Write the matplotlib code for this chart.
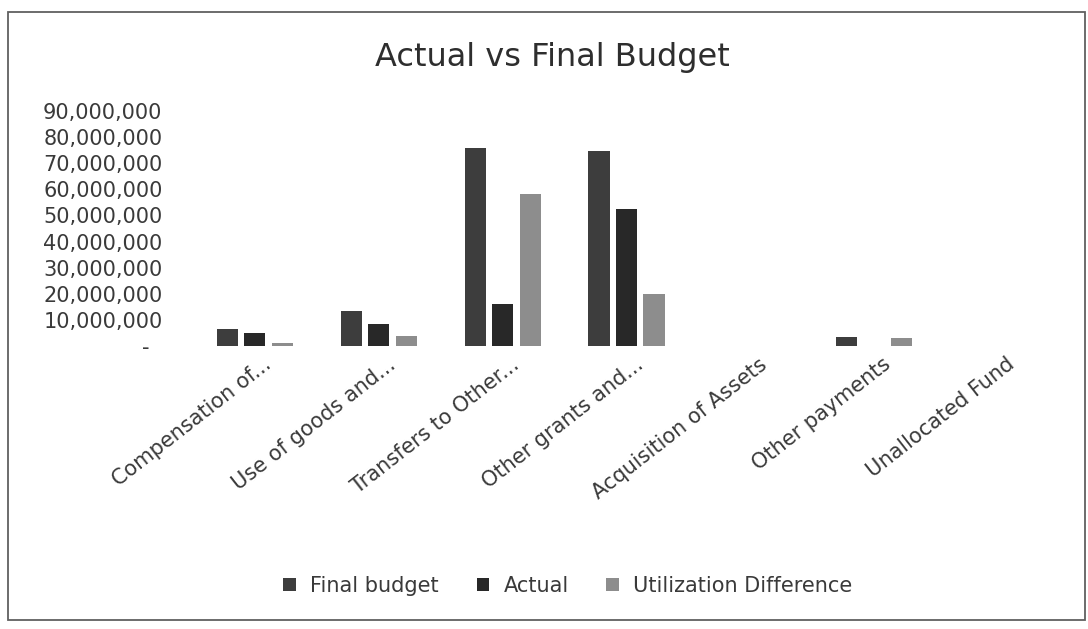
import matplotlib
matplotlib.use("Agg")
import matplotlib.pyplot as plt
import numpy as np
from matplotlib.patches import Rectangle
from matplotlib.transforms import ScaledTranslation

plt.rcParams['font.family'] = ['DejaVu Sans']

categories = ["Compensation of...", "Use of goods and...", "Transfers to Other...",
              "Other grants and...", "Acquisition of Assets", "Other payments",
              "Unallocated Fund"]
final_budget = [6.6e6, 13.3e6, 75.7e6, 74.5e6, 0, 3.3e6, 0]
actual = [5.0e6, 8.6e6, 16.0e6, 52.5e6, 0, 0, 0]
utilization_diff = [1.0e6, 3.9e6, 58.3e6, 20.0e6, 0, 3.0e6, 0]
series_names = ["Final budget", "Actual", "Utilization Difference"]
yticks = [0, 10e6, 20e6, 30e6, 40e6, 50e6, 60e6, 70e6, 80e6, 90e6]
ytick_labels = ["-  "] + [f"{int(v):,}" for v in yticks[1:]]

colors = ["#3d3d3d", "#282828", "#8d8d8d"]
text_color = "#3a3a3a"

W, H = 1088, 629
fig = plt.figure(figsize=(W/100, H/100), dpi=100)
fig.patch.set_facecolor("white")
fig.add_artist(Rectangle((8/W, 1-620/H), (1085-8)/W, (620-12)/H,
                         transform=fig.transFigure, fill=False,
                         edgecolor="#606060", linewidth=1.3))

ax = fig.add_axes([193/W, 1-346/H, 867/W, 235/H])
x = np.arange(len(categories))
slot = 0.222
width = 0.170
for i, (vals, name) in enumerate(zip([final_budget, actual, utilization_diff], series_names)):
    ax.bar(x + (i-1)*slot, vals, width=width, color=colors[i], label=name)

ax.set_xlim(-0.5, len(categories)-0.5)
ax.set_ylim(0, 90e6)
ax.set_yticks(yticks)
ax.set_yticklabels(ytick_labels, fontsize=15, color=text_color)
ax.set_xticks(x)
ax.set_xticklabels([])
ax.tick_params(axis="both", length=0)
ax.tick_params(axis="y", pad=22)
for s in ax.spines.values():
    s.set_visible(False)

# rotated category labels (image is horizontally stretched, so ~38 degrees)
off = ScaledTranslation(14/100, -16/100, fig.dpi_scale_trans)
for xi, lab in zip(x, categories):
    ax.text(xi, 0, lab, transform=ax.get_xaxis_transform() + off,
            rotation=38, rotation_mode="anchor", ha="right", va="center",
            fontsize=15, color=text_color)

fig.text(552/W, 1-66/H, "Actual vs Final Budget", ha="center", va="baseline",
         fontsize=23, color="#2e2e2e")

handles, labels = ax.get_legend_handles_labels()
fig.legend(handles, labels, loc="center", bbox_to_anchor=(568/W, 1-586/H),
           ncol=3, frameon=False, fontsize=15, handlelength=0.6, handleheight=0.6,
           columnspacing=1.8, handletextpad=0.7, labelcolor=text_color)

fig.savefig("out.png", dpi=100)
